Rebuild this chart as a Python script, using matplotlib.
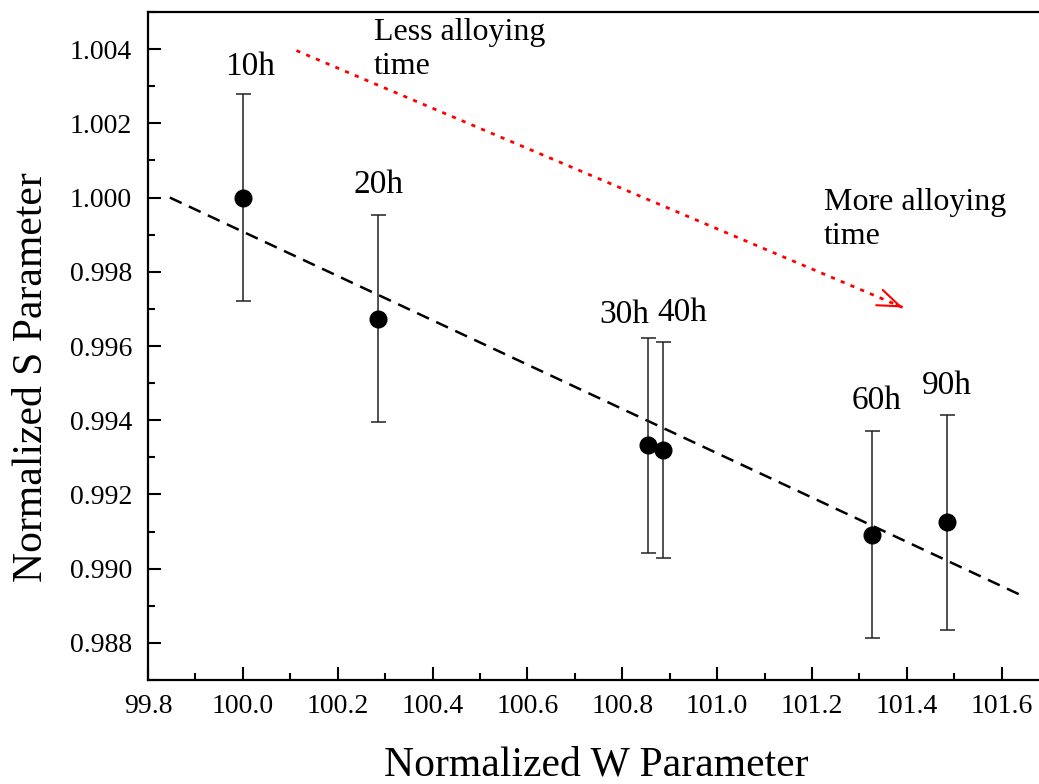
import numpy as np
import matplotlib
matplotlib.use("Agg")
import matplotlib.pyplot as plt
from matplotlib.ticker import MultipleLocator, FormatStrFormatter

plt.rcParams['font.family'] = ['Liberation Serif', 'DejaVu Serif']

# --- Data ---
hours = ['10h', '20h', '30h', '40h', '60h', '90h']
w_param = [100.0, 100.285, 100.854, 100.885, 101.327, 101.485]
s_param = [1.0000, 0.99674, 0.99332, 0.99320, 0.99092, 0.99125]
s_err = [0.0028, 0.0028, 0.0029, 0.0029, 0.0028, 0.0029]

# label anchor points (x centre, baseline y)
label_x = [100.015, 100.285, 100.805, 100.927, 101.336, 101.484]
label_y = [1.00329, 1.00013, 0.99662, 0.99668, 0.99429, 0.99472]

# linear trend line end points
fit_x = [99.846, 101.638]
fit_y = [1.0000, 0.98930]

# red guide arrow (start, end)
arrow_start = (100.113, 1.00396)
arrow_end = (101.391, 0.99704)

# --- Plot ---
fig = plt.figure(figsize=(10.39, 7.84), dpi=100)
# axes runs slightly past the right edge of the figure
ax = fig.add_axes([148 / 1039, 1 - 680 / 784, 901.2 / 1039, 668 / 784])

ax.plot(fit_x, fit_y, color='black', lw=1.8, linestyle='--', dashes=(5.2, 3.2))

ax.errorbar(w_param, s_param, yerr=s_err, fmt='o', color='black',
            ecolor='#222222', elinewidth=1.1, capsize=5.4, capthick=1.1,
            markersize=12, zorder=3)

for name, lx, ly in zip(hours, label_x, label_y):
    ax.text(lx, ly, name, ha='center', va='baseline', fontsize=24)

# dotted shaft + solid open head
ax.plot([arrow_start[0], arrow_end[0]], [arrow_start[1], arrow_end[1]],
        color='red', lw=2.0, linestyle=(0, (1.5, 2.3)))
tail = (arrow_end[0] - 0.01 * (arrow_end[0] - arrow_start[0]),
        arrow_end[1] - 0.01 * (arrow_end[1] - arrow_start[1]))
ax.annotate('', xy=arrow_end, xytext=tail,
            arrowprops=dict(arrowstyle='->,head_length=0.8,head_width=0.3',
                            color='red', lw=1.5, mutation_scale=20,
                            shrinkA=0, shrinkB=0))

ax.text(100.276, 1.00485, 'Less alloying\ntime', ha='left', va='top',
        fontsize=23, linespacing=1.25)
ax.text(101.225, 1.00027, 'More alloying\ntime', ha='left', va='top',
        fontsize=23, linespacing=1.25)

ax.set_xlim(99.8, 101.7)
ax.set_ylim(0.987, 1.005)

ax.xaxis.set_major_locator(MultipleLocator(0.2))
ax.xaxis.set_minor_locator(MultipleLocator(0.1))
ax.yaxis.set_major_locator(MultipleLocator(0.002))
ax.yaxis.set_minor_locator(MultipleLocator(0.001))
ax.xaxis.set_major_formatter(FormatStrFormatter('%.1f'))
ax.yaxis.set_major_formatter(FormatStrFormatter('%.3f'))

ax.tick_params(which='both', direction='in', width=1.5, labelsize=20,
               top=False, right=False)
ax.tick_params(which='major', length=9.5)
ax.tick_params(which='minor', length=5)
ax.tick_params(axis='y', which='major', pad=11.5)
ax.tick_params(axis='x', which='major', pad=10)

for sp in ax.spines.values():
    sp.set_linewidth(1.6)

ax.set_xlabel('Normalized W Parameter', fontsize=30)
ax.xaxis.label.set_va('baseline')
ax.xaxis.set_label_coords((596 - 148) / 901.2, (680 - 775) / 668)

ax.set_ylabel('Normalized S Parameter', fontsize=30)
ax.yaxis.label.set_rotation_mode('anchor')
ax.yaxis.label.set_va('baseline')
ax.yaxis.label.set_ha('center')
ax.yaxis.set_label_coords((41.7 - 148) / 901.2, (680 - 377) / 668)

fig.savefig('out.png', dpi=100)
